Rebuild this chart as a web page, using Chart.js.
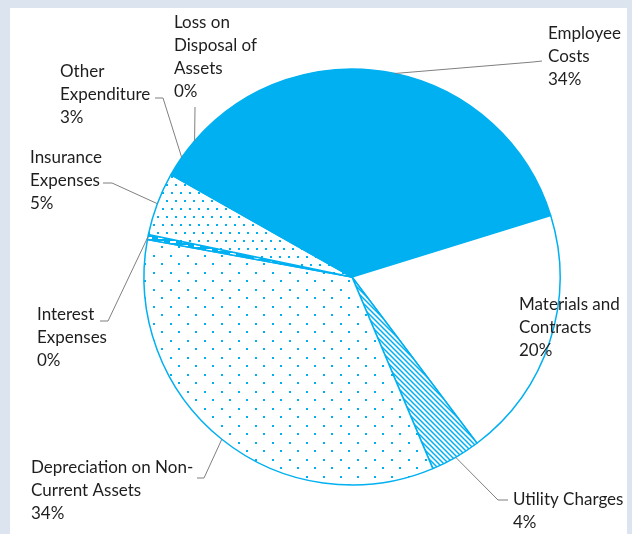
<!DOCTYPE html>
<html>
<head>
<meta charset="utf-8">
<script src="https://cdn.jsdelivr.net/npm/chart.js@4.4.1/dist/chart.umd.min.js"></script>
<style>
  html, body { margin: 0; padding: 0; }
  body { width: 632px; height: 534px; background: #dce5ef; position: relative; overflow: hidden; }
  #panel { position: absolute; left: 10px; top: 8px; width: 617px; height: 526px; background: #fff; }
  #chart { position: absolute; left: 0; top: 0; }
</style>
</head>
<body>
<div id="panel"></div>
<canvas id="chart" width="632" height="534"></canvas>
<script>
// Data
const categories = ['Employee Costs', 'Materials and Contracts', 'Utility Charges',
    'Depreciation on Non-Current Assets', 'Interest Expenses', 'Insurance Expenses',
    'Other Expenditure', 'Loss on Disposal of Assets'];
const shares = [33.8, 19.5, 3.9, 34.2, 0.4, 4.9, 3.1, 0.1];
const shownPct = ['34%', '20%', '4%', '34%', '0%', '5%', '3%', '0%'];

// label text lines (as wrapped in the original)
const labelLines = [
    ['Employee', 'Costs'],
    ['Materials and', 'Contracts'],
    ['Utility Charges'],
    ['Depreciation on Non-', 'Current Assets'],
    ['Interest', 'Expenses'],
    ['Insurance', 'Expenses'],
    ['Other', 'Expenditure'],
    ['Loss on', 'Disposal of', 'Assets']
];

const BLUE = '#00b0f0';

function makePattern(w, h, draw) {
    const c = document.createElement('canvas');
    c.width = w; c.height = h;
    const g = c.getContext('2d');
    draw(g);
    return document.getElementById('chart').getContext('2d').createPattern(c, 'repeat');
}

// sparse dots
const dotsWide = makePattern(17, 17, g => {
    g.fillStyle = '#fff'; g.fillRect(0, 0, 17, 17);
    g.fillStyle = BLUE;
    g.fillRect(0, 0, 2, 2);
    g.fillRect(8, 8, 2, 2);
});
// denser dots
const dotsDense = makePattern(9, 16, g => {
    g.fillStyle = '#fff'; g.fillRect(0, 0, 9, 16);
    g.fillStyle = BLUE;
    g.fillRect(0, 0, 2, 2);
    g.fillRect(4, 8, 2, 2);
});
// diagonal hatch
const hatch = makePattern(5, 5, g => {
    g.fillStyle = '#fff'; g.fillRect(0, 0, 5, 5);
    g.strokeStyle = BLUE; g.lineWidth = 1.5;
    g.beginPath();
    g.moveTo(-1, -1); g.lineTo(6, 6);
    g.moveTo(-1, 4); g.lineTo(1, 6);
    g.moveTo(4, -1); g.lineTo(6, 1);
    g.stroke();
});
// dashes on blue
const dashes = makePattern(12, 4, g => {
    g.fillStyle = BLUE; g.fillRect(0, 0, 12, 4);
    g.fillStyle = '#fff'; g.fillRect(2, 1, 6, 2);
});

const fills = [BLUE, '#ffffff', hatch, dotsWide, dashes, dotsDense, BLUE, BLUE];

// label layout: text left x, first line y, leader elbow points (null = no leader)
const labelPos = [
    { x: 548, y: 34, elbow: [[542, 61], [533, 62]] },
    { x: 519, y: 305, elbow: null },
    { x: 513, y: 500, elbow: [[508, 500], [498, 500]] },
    { x: 31, y: 468, elbow: [[197, 478], [204, 478]] },
    { x: 37, y: 315, elbow: [[100, 321], [108, 321]] },
    { x: 30, y: 158, elbow: [[103, 183], [112, 183]] },
    { x: 60, y: 72, elbow: [[155, 98], [163, 98]] },
    { x: 174, y: 23, elbow: [[195, 107], [195, 107]] }
];

const labelsPlugin = {
    id: 'outLabels',
    afterDatasetsDraw(chart) {
        const ctx = chart.ctx;
        const meta = chart.getDatasetMeta(0);
        ctx.save();
        // leader lines
        ctx.strokeStyle = '#7f7f7f';
        ctx.lineWidth = 1;
        meta.data.forEach((arc, i) => {
            const p = labelPos[i];
            if (!p.elbow) return;
            const mid = (arc.startAngle + arc.endAngle) / 2;
            const ex = arc.x + Math.cos(mid) * arc.outerRadius;
            const ey = arc.y + Math.sin(mid) * arc.outerRadius;
            ctx.beginPath();
            ctx.moveTo(p.elbow[0][0], p.elbow[0][1]);
            ctx.lineTo(p.elbow[1][0], p.elbow[1][1]);
            ctx.lineTo(ex, ey);
            ctx.stroke();
        });
        // texts
        ctx.fillStyle = '#1e1e1e';
        ctx.font = '17px Lato, "Open Sans", sans-serif';
        ctx.textBaseline = 'middle';
        ctx.textAlign = 'left';
        categories.forEach((c, i) => {
            const p = labelPos[i];
            const lines = labelLines[i].concat([shownPct[i]]);
            lines.forEach((t, k) => ctx.fillText(t, p.x, p.y + k * 22.8));
        });
        ctx.restore();
    }
};

new Chart(document.getElementById('chart'), {
    type: 'pie',
    data: {
        labels: categories,
        datasets: [{
            data: shares,
            backgroundColor: fills,
            borderColor: BLUE,
            borderWidth: 1.5
        }]
    },
    options: {
        responsive: false,
        animation: false,
        rotation: -49,
        radius: 208,
        layout: { padding: { left: 72, right: 0, top: 20, bottom: 0 } },
        plugins: {
            legend: { display: false },
            tooltip: { enabled: false }
        }
    },
    plugins: [labelsPlugin]
});
</script>
</body>
</html>
